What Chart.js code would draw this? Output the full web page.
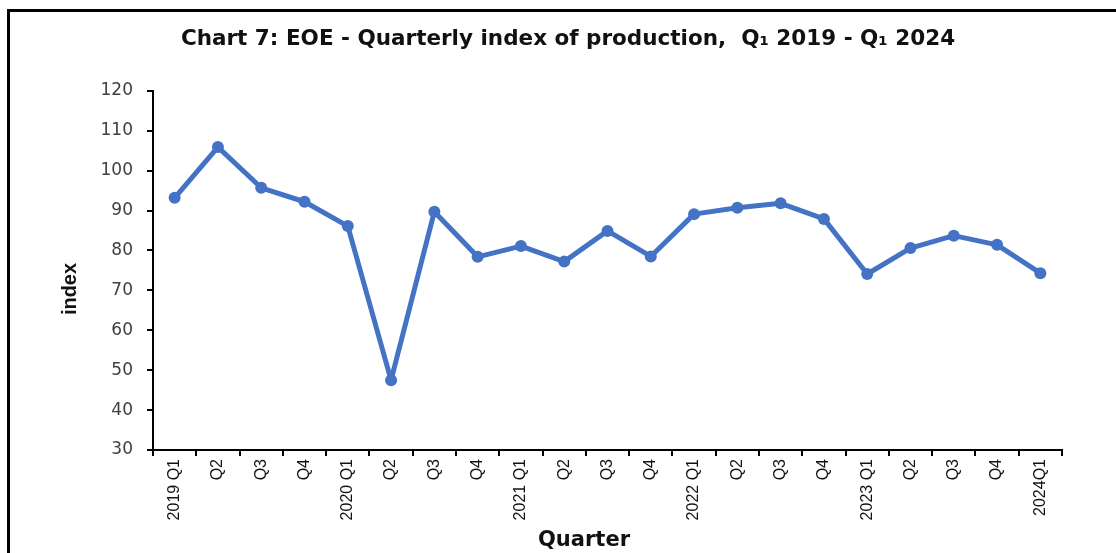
<!DOCTYPE html>
<html>
<head>
<meta charset="utf-8">
<script src="https://cdn.jsdelivr.net/npm/chart.js@4.4.1/dist/chart.umd.min.js"></script>
<style>
  html, body { margin: 0; padding: 0; background: #fff; overflow: hidden; }
  #wrap { position: relative; width: 1116px; height: 553px; }
  #frame { position: absolute; left: 7px; top: 9px; right: -10px; bottom: -10px;
           border-left: 3px solid #000; border-top: 3px solid #000; pointer-events: none; }
</style>
</head>
<body>
<div id="wrap">
  <canvas id="chart" width="1116" height="553"></canvas>
  <div id="frame"></div>
</div>
<script>
const quarters = ['2019 Q1', 'Q2', 'Q3', 'Q4', '2020 Q1', 'Q2', 'Q3', 'Q4', '2021 Q1', 'Q2', 'Q3', 'Q4',
  '2022 Q1', 'Q2', 'Q3', 'Q4', '2023 Q1', 'Q2', 'Q3', 'Q4', '2024Q1'];
const indexValues = [93.2, 105.9, 95.7, 92.2, 86.1, 47.5, 89.7, 78.4, 81.1, 77.2, 84.9, 78.5,
  89.1, 90.7, 91.8, 87.9, 74.1, 80.6, 83.7, 81.4, 74.3];
const yTicks = [30, 40, 50, 60, 70, 80, 90, 100, 110, 120];

const blue = '#4472C4';

// axis titles sit off-centre in the original, so draw them by hand
const axisTitles = {
  id: 'axisTitles',
  afterDraw(chart) {
    const ctx = chart.ctx;
    ctx.save();
    ctx.fillStyle = '#111';
    ctx.textAlign = 'center';
    ctx.textBaseline = 'middle';

    ctx.font = "bold 21px 'DejaVu Sans', sans-serif";
    ctx.fillText('Quarter', 584, 541);

    ctx.translate(70, 289);
    ctx.rotate(-Math.PI / 2);
    ctx.font = "bold 20px 'Liberation Sans', Arial, sans-serif";
    ctx.fillText('index', 0, 0);
    ctx.restore();
  }
};

new Chart(document.getElementById('chart'), {
  type: 'line',
  data: {
    labels: quarters,
    datasets: [{
      label: 'index',
      data: indexValues,
      borderColor: blue,
      backgroundColor: blue,
      borderWidth: 5,
      borderJoinStyle: 'round',
      pointRadius: 6,
      pointHoverRadius: 6,
      pointBackgroundColor: blue,
      pointBorderWidth: 0,
      tension: 0
    }]
  },
  plugins: [axisTitles],
  options: {
    responsive: false,
    animation: false,
    layout: { padding: { left: 20, right: 0, top: 10, bottom: 0 } },
    plugins: {
      legend: { display: false },
      tooltip: { enabled: false },
      title: {
        display: true,
        text: 'Chart 7: EOE - Quarterly index of production,  Q\u2081 2019 - Q\u2081 2024',
        color: '#111',
        font: { family: "'DejaVu Sans', sans-serif", size: 21.5, weight: 'bold' },
        padding: { top: 17, bottom: 38 }
      }
    },
    scales: {
      x: {
        type: 'category',
        offset: true,
        grid: {
          display: true,
          offset: true,
          drawOnChartArea: false,
          drawTicks: true,
          tickLength: 6,
          color: '#000',
          lineWidth: 2
        },
        border: { display: true, color: '#000', width: 2 },
        ticks: {
          autoSkip: false,
          minRotation: 90,
          maxRotation: 90,
          padding: 3,
          color: '#111',
          font: { family: "'Liberation Sans', Arial, sans-serif", size: 16 }
        },
        afterFit: (scale) => { scale.height = 103; }
      },
      y: {
        min: 30,
        max: 120,
        afterBuildTicks: (scale) => { scale.ticks = yTicks.map(v => ({ value: v })); },
        grid: {
          display: true,
          drawOnChartArea: false,
          drawTicks: true,
          tickLength: 6,
          color: '#000',
          lineWidth: 2
        },
        border: { display: true, color: '#000', width: 2 },
        ticks: {
          padding: 14,
          color: '#404040',
          font: { family: "'DejaVu Sans', Verdana, sans-serif", size: 17 }
        },
        afterFit: (scale) => { scale.width = 133; }
      },
      // empty right axis only reserves the blank strip right of the plot
      yRight: {
        position: 'right',
        display: true,
        grid: { display: false },
        border: { display: false },
        ticks: { display: false },
        afterFit: (scale) => { scale.width = 54; }
      }
    }
  }
});
</script>
</body>
</html>
